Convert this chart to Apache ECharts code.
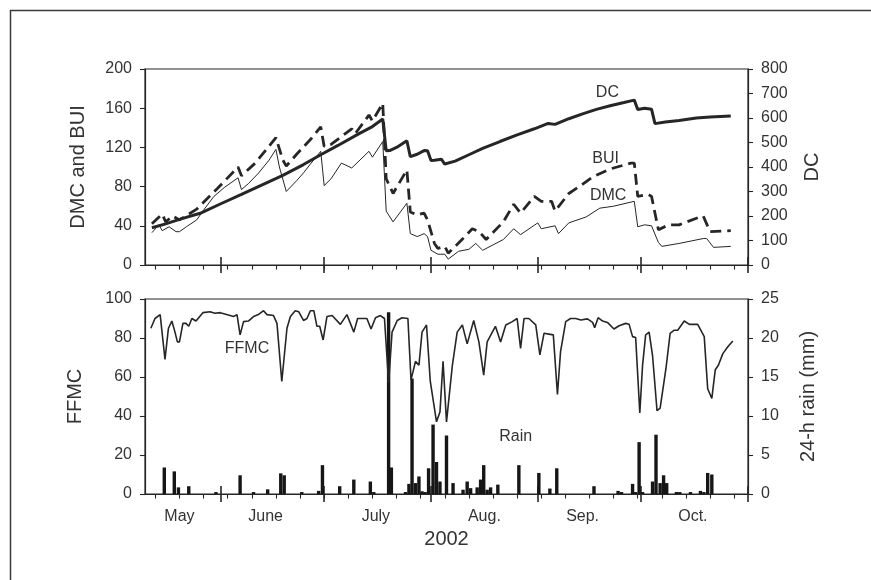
<!DOCTYPE html>
<html><head><meta charset="utf-8">
<script src="https://cdn.jsdelivr.net/npm/echarts@6/dist/echarts.min.js"></script>
<style>html,body{margin:0;padding:0;background:#fff}#c{width:871px;height:580px}</style>
</head><body><div id="c"></div>
<script>
// x values are day of year 2002
const monthNames = ['May', 'June', 'July', 'Aug.', 'Sep.', 'Oct.'];
const monthLabelDays = [140, 165, 197, 228.5, 257, 289];
const monthStartDays = [152, 182, 213, 244, 274, 305];
const weekTickDays = [133,140,147,154,161,168,175,182,189,196,203,210,217,224,231,238,245,252,259,266,273,280,287,294,301];

const dcData = [[132,152],[136,168],[140,186],[146,211],[152,250],[158,288],[164,327],[170,366],[176,410],[181,450],[186,488],[192,535],[196,565],[199,596],[200,466],[201,467],[203,480],[206,507],[207,442],[209,452],[211,467],[212,466],[213,427],[214,428],[216,432],[217,412],[220,424],[224,450],[228,476],[233,504],[238,531],[243,556],[247,578],[249,574],[253,597],[257,617],[261,635],[265,650],[269,663],[272,673],[273,635],[275,640],[277,636],[278,577],[281,584],[285,590],[290,600],[294,604],[297,606],[300,608]];

const dmcData = [[132,33],[134,41],[135,35],[137,39],[139,34],[140,34],[142,39],[145,46],[147,56],[150,70],[153,79],[157,89],[158,77],[160,83],[163,94],[166,107],[168,118],[169,100],[171,75],[174,86],[176,94],[178,103],[181,116],[182,81],[184,88],[187,104],[190,99],[195,116],[196,110],[199,126],[200,55],[202,44],[206,63],[207,32],[209,29],[211,32],[212,29],[213,15],[215,11],[217,11],[218,6],[221,14],[224,16],[226,22],[228,15],[234,26],[237,37],[239,31],[244,43],[245,37],[249,40],[250,32],[253,43],[258,49],[262,58],[266,60],[272,65],[273,39],[275,41],[277,40],[279,23],[280,19],[285,22],[292,27],[293,27],[295,18],[300,19]];

const buiData = [[132,42],[135,52],[136,44],[138,50],[140,46],[145,57],[151,78],[157,100],[158,91],[162,104],[165,117],[168,130],[170,107],[171,101],[174,113],[178,128],[181,141],[182,121],[184,123],[187,131],[190,139],[191,134],[195,153],[196,147],[199,165],[200,88],[202,73],[206,97],[207,54],[209,51],[211,53],[212,46],[214,22],[215,17],[217,19],[218,12],[222,26],[225,37],[227,34],[229,26],[234,44],[237,62],[239,53],[243,70],[245,65],[248,65],[249,55],[253,73],[256,80],[260,90],[265,98],[271,104],[272,104],[273,70],[276,72],[277,70],[279,36],[282,41],[285,41],[291,49],[292,50],[294,34],[300,35]];

const ffmcData = [[131.7,85],[132.9,90],[134.4,92],[134.8,92],[135.8,69],[136.8,85],[137.8,88.7],[138.7,83],[139.4,78],[140,78],[141,87.5],[141.9,87.5],[142.7,86],[143.6,90],[144.8,88.7],[146.8,93],[148.9,93.5],[150.3,92.7],[151.8,93],[153.7,92],[155.7,91],[156.7,92],[157.6,81.6],[158.6,88.4],[160,88.7],[161.5,91],[162.9,92],[164.4,94],[165.4,92],[167.3,91.5],[168.3,87.5],[169.7,57.7],[171.2,85],[172.2,91],[173.6,94],[174.6,93.5],[176,89],[177,90],[178,94],[179,94],[179.9,86],[180.7,86],[181.7,79],[182.8,91],[184.3,91.5],[186.7,87],[188.6,92],[190.6,83],[191.7,90],[194.4,90],[195.6,84.6],[196.9,90.4],[198.3,91.5],[199.5,90],[200.7,57],[201.7,83],[203.2,89],[204.6,90.4],[206.3,90],[207.2,58.5],[208.5,68],[209.5,66],[210.4,83],[211.7,86.7],[212.8,57.7],[214.6,37],[215.6,42],[216.5,68],[217.5,37],[219.2,66],[220.6,83],[222.1,86.7],[223.5,77],[225.4,89],[226.9,78],[228.3,61],[229.3,78],[230.8,83],[231.7,86],[233.2,78],[234.7,86.7],[236.6,88.4],[238,90],[239,74.7],[240,90],[241.4,90],[243.4,86.7],[244.6,71.3],[245.8,82.4],[247.2,82],[248.5,81.6],[249.7,51],[250.6,73],[252.1,88.4],[253.5,90],[255,90],[256.5,89.2],[258.4,89.8],[259.9,88],[260.5,85.3],[261.5,90.4],[262.8,88.7],[264.2,88],[266.1,84.6],[267.6,86.3],[269.5,87.5],[270.5,87],[271.5,80.7],[272.4,80.2],[273.6,41.5],[274.4,66],[275.3,81.6],[276.3,83],[277.3,71],[278.6,42.7],[279.5,44],[281.2,64.5],[282.4,82.4],[283.6,84],[284.6,84],[286.5,88.7],[288,87],[290.4,87],[292.3,80.7],[293.3,54],[294.5,49],[295.5,63.7],[296.4,66],[297.7,72],[299.2,75.6],[300.6,78.5]];

const rainData = [[135.6,3.4],[138.5,2.9],[139.7,0.85],[142.7,1.0],[150.6,0.25],[157.6,2.4],[161.5,0.25],[165.6,0.6],[169.4,2.65],[170.4,2.4],[175.5,0.25],[180.4,0.4],[181.5,3.7],[186.5,1.0],[190.6,1.85],[195.4,1.6],[196.4,0.25],[200.7,23.3],[201.5,3.4],[205.6,0.25],[206.6,1.3],[207.5,14.8],[208.5,1.4],[209.5,2.25],[210.4,0.35],[211.3,0.25],[212.3,3.3],[213.6,8.9],[214.6,4.1],[215.6,1.6],[217.5,7.5],[219.4,1.4],[222.3,0.55],[223.5,1.6],[224.5,0.75],[226.4,0.85],[227.4,1.85],[228.3,3.7],[229.3,0.55],[230.3,0.85],[232.4,1.2],[238.5,3.7],[244.3,2.7],[247.5,0.7],[249.5,3.3],[260.3,1.0],[267.3,0.4],[268.3,0.25],[271.5,1.3],[272.4,0.25],[273.4,6.65],[274.4,0.25],[277.3,1.6],[278.3,7.6],[279.5,1.4],[280.5,2.4],[281.4,1.4],[284.2,0.25],[285.2,0.25],[288.3,0.25],[291.2,0.4],[292.2,0.25],[293.3,2.7],[294.5,2.5]];

const FONT = "'Liberation Sans', Arial, sans-serif";
const INK = '#262626';
const TXT = '#333333';
const X_MIN = 130, X_MAX = 305;

function xAxes(grid, withLabels) {
  const base = {type: 'value', gridIndex: grid, min: X_MIN, max: X_MAX, position: 'bottom',
    splitLine: {show: false}};
  return [
    Object.assign({}, base, {
      axisLine: {show: true, onZero: false, lineStyle: {color: INK, width: 1.2}},
      axisTick: {show: true, customValues: monthStartDays, length: 8, inside: false, lineStyle: {color: INK, width: 1.6}},
      axisLabel: withLabels ? {show: true, customValues: monthLabelDays, margin: 15,
        formatter: function (v) { return monthNames[monthLabelDays.indexOf(v)]; },
        fontFamily: FONT, fontSize: 16, color: TXT} : {show: false},
      name: withLabels ? '2002' : '', nameLocation: 'middle', nameGap: 35,
      nameTextStyle: {fontFamily: FONT, fontSize: 20, color: TXT}
    }),
    Object.assign({}, base, {
      axisLine: {show: false},
      axisTick: {show: true, customValues: monthStartDays, length: 8, inside: true, lineStyle: {color: INK, width: 1.6}},
      axisLabel: {show: false}
    }),
    Object.assign({}, base, {
      axisLine: {show: false},
      axisTick: {show: true, customValues: weekTickDays, length: 4.5, inside: false, lineStyle: {color: INK, width: 1.1}},
      axisLabel: {show: false}
    })
  ];
}

function yAxis(grid, pos, max, interval, name, gap) {
  return {type: 'value', gridIndex: grid, position: pos, min: 0, max: max, interval: interval,
    splitLine: {show: false},
    axisLine: {show: true, lineStyle: {color: INK, width: 1.2}},
    axisTick: {show: true, length: 5, inside: false, lineStyle: {color: INK, width: 1.1}},
    axisLabel: {margin: 13, fontFamily: FONT, fontSize: 16, color: TXT},
    name: name, nameLocation: 'middle', nameRotate: 90, nameGap: gap,
    nameTextStyle: {fontFamily: FONT, fontSize: 20, color: TXT}};
}

function tag(text, coord) {
  return {data: [{coord: coord}], symbol: 'circle', symbolSize: 1, silent: true,
    itemStyle: {color: 'rgba(0,0,0,0)'}, animation: false,
    label: {show: true, position: 'inside', formatter: text, fontFamily: FONT, fontSize: 16, color: TXT}};
}

const chart = echarts.init(document.getElementById('c'), null, {renderer: 'canvas'});
chart.setOption({
  animation: false,
  backgroundColor: '#ffffff',
  graphic: [{type: 'rect', left: 8, top: 8, shape: {width: 1200, height: 900},
    style: {fill: 'none', stroke: '#3a3a3a', lineWidth: 1.5}, silent: true}],
  grid: [
    {left: 145, right: 123, top: 69, height: 196, show: true, borderColor: INK, borderWidth: 1.2},
    {left: 145, right: 123, top: 299, height: 195, show: true, borderColor: INK, borderWidth: 1.2}
  ],
  xAxis: xAxes(0, false).concat(xAxes(1, true)),
  yAxis: [
    yAxis(0, 'left', 200, 40, 'DMC and BUI', 57),
    yAxis(0, 'right', 800, 100, 'DC', 54),
    yAxis(1, 'left', 100, 20, 'FFMC', 60),
    yAxis(1, 'right', 25, 5, '24-h rain (mm)', 50)
  ],
  series: [
    {type: 'line', name: 'DMC', xAxisIndex: 0, yAxisIndex: 0, data: dmcData, symbol: 'none',
      lineStyle: {color: INK, width: 1}, markPoint: tag('DMC', [264.4, 70.4])},
    {type: 'line', name: 'BUI', xAxisIndex: 0, yAxisIndex: 0, data: buiData, symbol: 'none',
      lineStyle: {color: INK, width: 2.8, type: [11, 6]}, markPoint: tag('BUI', [263.7, 109])},
    {type: 'line', name: 'DC', xAxisIndex: 0, yAxisIndex: 1, data: dcData, symbol: 'none',
      lineStyle: {color: INK, width: 3}, markPoint: tag('DC', [264.2, 703])},
    {type: 'bar', name: 'Rain', xAxisIndex: 3, yAxisIndex: 3, data: rainData, barWidth: 3.4,
      itemStyle: {color: '#161616'}, markPoint: tag('Rain', [237.6, 7.4])},
    {type: 'line', name: 'FFMC', xAxisIndex: 3, yAxisIndex: 2, data: ffmcData, symbol: 'none',
      lineStyle: {color: INK, width: 1.6}, markPoint: tag('FFMC', [159.6, 74.4])}
  ]
});
</script>
</body></html>
